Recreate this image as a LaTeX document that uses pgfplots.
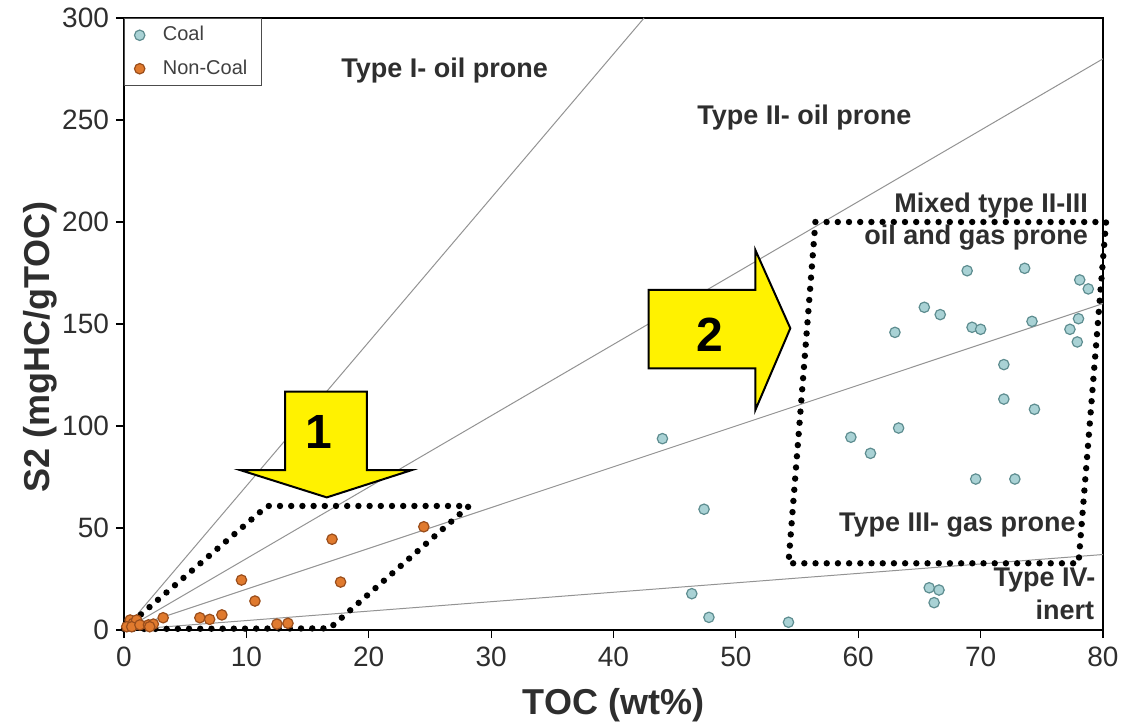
\documentclass[border=0pt]{standalone}
\usepackage{pgfplots}
\pgfplotsset{compat=1.18}
\usepackage{fontspec}
\setmainfont{Liberation Sans}
\definecolor{coalfill}{HTML}{A9D2D5}
\definecolor{coaledge}{HTML}{5E8D90}
\definecolor{ncfill}{HTML}{E07A2E}
\definecolor{ncedge}{HTML}{9A4E1C}
\definecolor{arrowyellow}{HTML}{FFF200}
\definecolor{txt}{HTML}{2E2E2E}
\begin{document}
\begin{tikzpicture}
\begin{axis}[
  scale only axis, width=489.5pt, height=306pt,
  xmin=0, xmax=80, ymin=0, ymax=300,
  xtick={0,10,...,80}, ytick={0,50,...,300},
  tick align=outside, major tick length=4pt,
  xtick pos=bottom, ytick pos=left,
  tick style={black, line width=0.6pt},
  axis line style={black, line width=0.8pt},
  /pgf/number format/assume math mode=true,
  ticklabel style={font=\fontsize{14}{14}\selectfont, text=txt},
  xticklabel style={yshift=-1pt},
  xlabel={TOC (wt\%)}, ylabel={S2 (mgHC/gTOC)},
  xlabel style={font=\bfseries\fontsize{18}{18}\selectfont, text=txt, at={(axis description cs:0.5,-0.1225)}, anchor=center},
  ylabel style={font=\bfseries\fontsize{18}{18}\selectfont, text=txt, at={(axis description cs:-0.0858,0.462)}, anchor=center},
  clip=false,
  legend style={at={(rel axis cs:0,1)}, anchor=north west, draw=black!70, line width=0.5pt,
    font=\fontsize{10}{12}\selectfont, text=black!75, inner xsep=5pt, inner ysep=2pt,
    row sep=4pt, column sep=7pt, cells={anchor=west}, legend cell align=left},
]
% HI lines
\addplot[gray!85, line width=0.5pt, forget plot] coordinates {(0,0) (42.5,300)};
\addplot[gray!85, line width=0.5pt, forget plot] coordinates {(0,0) (80,280)};
\addplot[gray!85, line width=0.5pt, forget plot] coordinates {(0,0) (80,160)};
\addplot[gray!85, line width=0.5pt, forget plot] coordinates {(0,0) (80,37)};

% Coal
\addplot[only marks, mark=*, mark size=2.6pt, mark options={fill=coalfill, draw=coaledge, line width=0.6pt}] coordinates {
(44.0,93.8) (46.4,17.8) (47.4,59.2) (47.8,6.2) (54.3,3.8)
(59.4,94.5) (61.0,86.6) (63.0,145.9) (63.3,99.0) (65.4,158.2)
(66.7,154.6) (65.8,20.7) (66.6,19.6) (66.2,13.4) (68.9,176.1)
(69.3,148.4) (70.0,147.4) (69.6,74.0) (71.9,130.1) (71.9,113.2)
(73.6,177.3) (74.2,151.3) (72.8,74.0) (74.4,108.2) (77.3,147.4)
(78.1,171.6) (78.0,152.6) (77.9,141.2) (78.8,167.2)
};
\addlegendentry{Coal}
% Non-coal
\addplot[only marks, mark=*, mark size=2.6pt, mark options={fill=ncfill, draw=ncedge, line width=0.6pt}] coordinates {
(24.5,50.6) (17.0,44.5) (17.7,23.5) (9.6,24.5) (10.7,14.2)
(3.2,6.0) (6.2,6.0) (7.0,5.2) (8.0,7.4) (12.5,2.9) (13.4,3.3)
(0.5,4.9) (0.76,3.3) (1.03,4.9) (0.22,1.6) (0.63,1.6) (1.3,2.5)
(2.0,2.5) (2.4,2.9) (2.1,1.6)
};
\addlegendentry{Non-Coal}

% dotted regions
\addplot[black, line width=3.2pt, line cap=round, dash pattern=on 0pt off 5.6pt, forget plot]
  coordinates {(0,0.5) (11.7,60.8) (28.2,60.8) (16.8,0.8) (0,0.5)};
\addplot[black, line width=3.2pt, line cap=round, dash pattern=on 0pt off 5.6pt, forget plot]
  coordinates {(56.5,200) (80.25,200) (78.0,32.7) (54.3,32.7) (56.5,200)};

% arrows
\addplot[fill=arrowyellow, draw=black, line width=1pt, line join=miter, forget plot] coordinates {
(13.16,116.8) (19.84,116.8) (19.84,78.4) (23.52,78.4) (16.57,65.0) (9.49,78.4) (13.16,78.4) (13.16,116.8)} --cycle;
\addplot[fill=arrowyellow, draw=black, line width=1pt, line join=miter, forget plot] coordinates {
(42.87,166.7) (51.59,166.7) (51.59,186.3) (54.45,147.9) (51.59,107.8) (51.59,128.3) (42.87,128.3) (42.87,166.7)} --cycle;

\node[font=\bfseries\fontsize{24}{24}\selectfont] at (axis cs:15.9,97) {1};
\node[font=\bfseries\fontsize{24}{24}\selectfont] at (axis cs:47.9,144.6) {2};

% region labels
\begin{scope}[every node/.style={font=\bfseries\fontsize{13.5}{16}\selectfont, text=txt, inner sep=0pt}]
\node at (axis cs:26.2,274.5) {Type I- oil prone};
\node at (axis cs:55.6,251) {Type II- oil prone};
\node[anchor=east] at (axis cs:78.8,208.3) {Mixed type II-III};
\node[anchor=east] at (axis cs:78.8,192.2) {oil and gas prone};
\node[anchor=east] at (axis cs:77.8,51.5) {Type III- gas prone};
\node[anchor=east] at (axis cs:79.4,24.5) {Type IV-};
\node[anchor=east] at (axis cs:79.3,9.8) {inert};
\end{scope}
\end{axis}
\pgfresetboundingbox
\path[use as bounding box] (-62pt,-47pt) rectangle (498.5pt,315pt);
\end{tikzpicture}
\end{document}
